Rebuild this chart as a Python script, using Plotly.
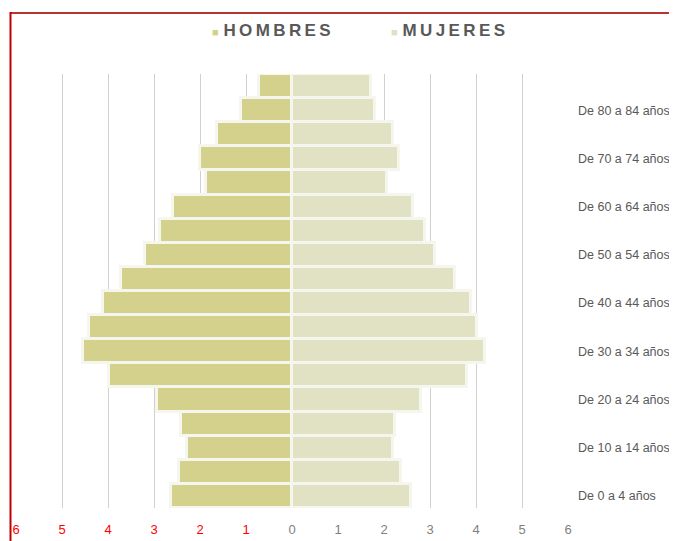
import plotly.graph_objects as go

# Age groups, bottom to top
categories = [
    "De 0 a 4 años", "De 5 a 9 años", "De 10 a 14 años", "De 15 a 19 años",
    "De 20 a 24 años", "De 25 a 29 años", "De 30 a 34 años", "De 35 a 39 años",
    "De 40 a 44 años", "De 45 a 49 años", "De 50 a 54 años", "De 55 a 59 años",
    "De 60 a 64 años", "De 65 a 69 años", "De 70 a 74 años", "De 75 a 79 años",
    "De 80 a 84 años", "De 85 y más años",
]
hombres = [2.62, 2.45, 2.28, 2.41, 2.93, 3.97, 4.54, 4.41, 4.10, 3.71,
           3.19, 2.88, 2.58, 1.88, 2.01, 1.62, 1.10, 0.71]
mujeres = [2.59, 2.37, 2.20, 2.24, 2.81, 3.81, 4.20, 4.02, 3.89, 3.55,
           3.11, 2.89, 2.63, 2.07, 2.33, 2.20, 1.81, 1.72]
shown_labels = categories[0:17:2]

x_tickvals = [-6, -5, -4, -3, -2, -1, 0, 1, 2, 3, 4, 5, 6]
x_ticktext = ["6", "5", "4", "3", "2", "1", "0", "1", "2", "3", "4", "5", "6"]

COL_H = "#d3d18c"
COL_M = "#e1e2c3"
EDGE = "#f5f6ee"

# page has an 8px body margin, so work in shifted coordinates
OFF = 8
W, H = 677 - OFF, 541 - OFF
ML = 16 - OFF
MR = W - (568 - OFF)
MT = 74 - OFF
MB = H - (508 - OFF)
PW = W - ML - MR
PH = H - MT - MB

def px2paper_x(px):
    return (px - OFF - ML) / PW

def py2paper_y(py):
    return (H - MB - (py - OFF)) / PH

fig = go.Figure()
fig.add_trace(go.Bar(
    y=categories, x=[-v for v in hombres], orientation="h", name="HOMBRES",
    marker=dict(color=COL_H, line=dict(color=EDGE, width=3)), showlegend=False,
))
fig.add_trace(go.Bar(
    y=categories, x=mujeres, orientation="h", name="MUJERES",
    marker=dict(color=COL_M, line=dict(color=EDGE, width=3)), showlegend=False,
))

tt = []
for v, t in zip(x_tickvals, x_ticktext):
    c = "#ff0000" if v < 0 else "#7f7f7f"
    tt.append(f'<span style="color:{c}">{t}</span>')

fig.update_layout(
    width=W, height=H,
    margin=dict(l=ML, r=MR, t=MT, b=MB, autoexpand=False),
    paper_bgcolor="white", plot_bgcolor="white",
    barmode="overlay", bargap=0,
    font=dict(family="Arial, Liberation Sans, sans-serif", color="#595959"),
    xaxis=dict(
        range=[-6, 6], tickvals=x_tickvals, ticktext=tt,
        showgrid=True, gridcolor="#d0d0d0", gridwidth=1,
        zeroline=True, zerolinecolor="#999999", zerolinewidth=1.5,
        showline=False, ticks="", tickfont=dict(size=13, color="#7f7f7f"),
        ticklabelstandoff=12,
        fixedrange=True, automargin=False,
    ),
    yaxis=dict(
        type="category", categoryorder="array", categoryarray=categories,
        side="right", tickvals=shown_labels, ticktext=shown_labels,
        showgrid=False, zeroline=False, showline=False, ticks="",
        ticklabelstandoff=9, tickfont=dict(size=12.5, color="#595959"),
        automargin=False, range=[-0.5, 17.5],
    ),
)

sp = "\u2009"
legend_items = [("HOMBRES", COL_H, 210), ("MUJERES", COL_M, 389)]
for name, col, px in legend_items:
    txt = (f'<span style="color:{col};font-size:11px">■</span> '
           f'<b>{sp.join(name)}</b>')
    fig.add_annotation(
        xref="paper", yref="paper", x=px2paper_x(px), y=py2paper_y(30),
        xanchor="left", yanchor="middle", showarrow=False, text=txt,
        font=dict(size=17, color="#595959"),
    )

# red frame lines
fig.add_shape(type="line", xref="paper", yref="paper",
              x0=px2paper_x(10), x1=px2paper_x(690),
              y0=py2paper_y(13), y1=py2paper_y(13),
              line=dict(color="#b83333", width=2))
fig.add_shape(type="line", xref="paper", yref="paper",
              x0=px2paper_x(10.5), x1=px2paper_x(10.5),
              y0=py2paper_y(12), y1=py2paper_y(560),
              line=dict(color="#c00000", width=2))

fig.write_html("out.html")
